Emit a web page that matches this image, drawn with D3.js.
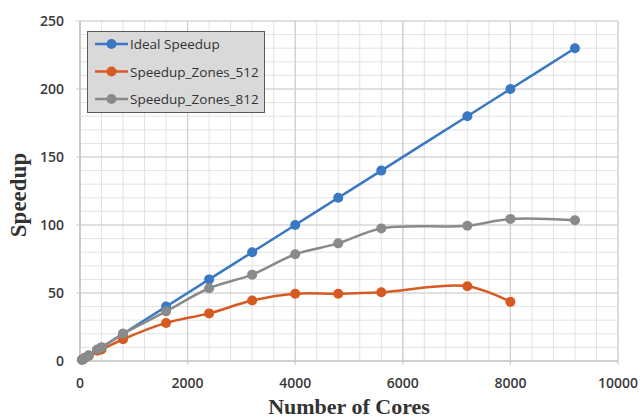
<!DOCTYPE html>
<html>
<head>
<meta charset="utf-8">
<script src="https://cdn.jsdelivr.net/npm/d3@7"></script>
<style>
  html, body { margin: 0; padding: 0; background: #fff; }
  svg { display: block; }
</style>
</head>
<body>
<svg id="chart" width="644" height="419"></svg>
<script>
// Core counts for each run
const coresIdeal = [40, 80, 160, 320, 400, 800, 1600, 2400, 3200, 4000, 4800, 5600, 7200, 8000, 9200];
const ideal      = [1, 2, 4, 8, 10, 20, 40, 60, 80, 100, 120, 140, 180, 200, 230];

const cores512   = [40, 80, 160, 320, 400, 800, 1600, 2400, 3200, 4000, 4800, 5600, 7200, 8000];
const zones512   = [1, 2, 3.8, 7.5, 8.5, 16, 28, 35, 44.5, 49.5, 49.5, 50.5, 55, 43.5];

const cores812   = [40, 80, 160, 320, 400, 800, 1600, 2400, 3200, 4000, 4800, 5600, 7200, 8000, 9200];
const zones812   = [1, 2, 4, 8.5, 10, 20, 36.5, 53.5, 63.5, 78.5, 86.5, 97.5, 99.5, 104.5, 103.5];

const seriesNames = ["Ideal Speedup", "Speedup_Zones_512", "Speedup_Zones_812"];
const xTicks = [0, 2000, 4000, 6000, 8000, 10000];
const yTicks = [0, 50, 100, 150, 200, 250];

const colors = ["#3a78c3", "#d65a22", "#8a8a8a"];
const series = [
  { name: seriesNames[0], xs: coresIdeal, ys: ideal },
  { name: seriesNames[1], xs: cores512, ys: zones512 },
  { name: seriesNames[2], xs: cores812, ys: zones812 }
];

const svg = d3.select("#chart");
const plot = { left: 80, right: 618, top: 21, bottom: 361 };

const x = d3.scaleLinear().domain([0, 10000]).range([plot.left, plot.right]);
const y = d3.scaleLinear().domain([0, 250]).range([plot.bottom, plot.top]);

// Minor grid
const g = svg.append("g");
g.selectAll("line.vminor").data(d3.range(0, 10001, 400))
  .join("line")
  .attr("x1", d => x(d)).attr("x2", d => x(d))
  .attr("y1", plot.top).attr("y2", plot.bottom)
  .attr("stroke", "#e2e2e2").attr("stroke-width", 1);
g.selectAll("line.hminor").data(d3.range(0, 251, 10))
  .join("line")
  .attr("x1", plot.left).attr("x2", plot.right)
  .attr("y1", d => y(d)).attr("y2", d => y(d))
  .attr("stroke", "#e2e2e2").attr("stroke-width", 1);

// Major grid
g.selectAll("line.vmajor").data(xTicks)
  .join("line")
  .attr("x1", d => x(d)).attr("x2", d => x(d))
  .attr("y1", plot.top).attr("y2", plot.bottom + 4)
  .attr("stroke", "#cfcfcf").attr("stroke-width", 1.2);
g.selectAll("line.hmajor").data(yTicks)
  .join("line")
  .attr("x1", plot.left - 4).attr("x2", plot.right)
  .attr("y1", d => y(d)).attr("y2", d => y(d))
  .attr("stroke", "#cfcfcf").attr("stroke-width", 1.2);

// Axis lines
svg.append("line").attr("x1", plot.left).attr("x2", plot.left)
  .attr("y1", plot.top).attr("y2", plot.bottom).attr("stroke", "#bfbfbf").attr("stroke-width", 1.2);
svg.append("line").attr("x1", plot.left).attr("x2", plot.right)
  .attr("y1", plot.bottom).attr("y2", plot.bottom).attr("stroke", "#bfbfbf").attr("stroke-width", 1.2);

// Tick labels
const tickFont = "'Open Sans', sans-serif";
svg.append("g").selectAll("text").data(xTicks).join("text")
  .attr("x", d => x(d)).attr("y", 388)
  .attr("text-anchor", "middle")
  .attr("font-family", tickFont).attr("font-size", 14).attr("font-weight", 600)
  .attr("fill", "#3a3a3a")
  .text(d => d);
svg.append("g").selectAll("text").data(yTicks).join("text")
  .attr("x", 64).attr("y", d => y(d) + 5)
  .attr("text-anchor", "end")
  .attr("font-family", tickFont).attr("font-size", 14).attr("font-weight", 600)
  .attr("fill", "#3a3a3a")
  .text(d => d);

// Axis titles
svg.append("text")
  .attr("x", 349).attr("y", 414)
  .attr("text-anchor", "middle")
  .attr("font-family", "'Liberation Serif', serif").attr("font-weight", "bold")
  .attr("font-size", 22).attr("fill", "#333")
  .text("Number of Cores");
svg.append("text")
  .attr("transform", "translate(26,195) rotate(-90)")
  .attr("text-anchor", "middle")
  .attr("font-family", "'Liberation Serif', serif").attr("font-weight", "bold")
  .attr("font-size", 23).attr("fill", "#333")
  .text("Speedup");

// Series lines and markers
const line = d3.line().curve(d3.curveCatmullRom.alpha(0.5));
series.forEach((s, i) => {
  const pts = s.xs.map((c, k) => [x(c), y(s.ys[k])]);
  svg.append("path")
    .attr("d", line(pts))
    .attr("fill", "none")
    .attr("stroke", colors[i]).attr("stroke-width", 2.5);
  svg.append("g").selectAll("circle").data(pts).join("circle")
    .attr("cx", d => d[0]).attr("cy", d => d[1]).attr("r", 5)
    .attr("fill", colors[i]);
});

// Legend
const lg = svg.append("g");
lg.append("rect")
  .attr("x", 87.5).attr("y", 31.5).attr("width", 177).attr("height", 81)
  .attr("fill", "#d9d9d9").attr("stroke", "#595959").attr("stroke-width", 1);
seriesNames.forEach((name, i) => {
  const cy = 44 + i * 27.5;
  lg.append("line").attr("x1", 95).attr("x2", 128).attr("y1", cy).attr("y2", cy)
    .attr("stroke", colors[i]).attr("stroke-width", 2.5);
  lg.append("circle").attr("cx", 111.5).attr("cy", cy).attr("r", 5).attr("fill", colors[i]);
  lg.append("text").attr("x", 130).attr("y", cy + 5)
    .attr("font-family", tickFont).attr("font-size", 13.5)
    .attr("fill", "#333")
    .text(name);
});
</script>
</body>
</html>
